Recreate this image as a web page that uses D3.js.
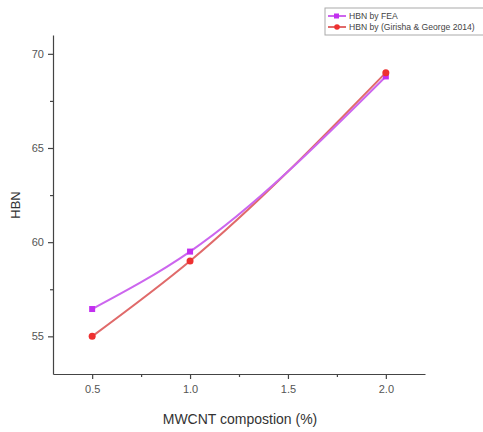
<html>
<head>
    <script src="https://d3js.org/d3.v7.min.js"></script>
    <style>
        body { margin: 0; background: white; }
        * { font-family: Arial, "Liberation Sans", sans-serif; }
        .axis text { fill: #555; font-size: 11px; }
        .axis path, .axis line { stroke: #444; }
    </style>
</head>
<body>
<svg id="chart" width="483" height="432"></svg>
<script>
    const compositions = [0.5, 1.0, 2.0];
    const hbnFEA = [56.45, 59.5, 68.8];
    const hbnGirisha = [55.0, 59.0, 69.0];
    const xTicks = [0.5, 1.0, 1.5, 2.0];
    const yTicks = [55, 60, 65, 70];
    const seriesNames = ["HBN by FEA", "HBN by (Girisha & George 2014)"];

    const svg = d3.select("#chart");
    const plotLeft = 53, plotRight = 425, plotTop = 35, plotBottom = 374;

    const xScale = d3.scaleLinear().domain([0.3, 2.2]).range([plotLeft, plotRight]);
    const yScale = d3.scaleLinear().domain([53, 71]).range([plotBottom, plotTop]);

    // minor ticks
    const xMinor = [0.75, 1.25, 1.75];
    const yMinor = [57.5, 62.5, 67.5];
    svg.append("g").attr("class", "axis")
        .attr("transform", `translate(0,${plotBottom})`)
        .call(d3.axisBottom(xScale).tickValues(xMinor).tickSize(3).tickFormat(""))
        .select(".domain").remove();
    svg.append("g").attr("class", "axis")
        .attr("transform", `translate(${plotLeft},0)`)
        .call(d3.axisLeft(yScale).tickValues(yMinor).tickSize(3).tickFormat(""))
        .select(".domain").remove();

    // major axes
    svg.append("g").attr("class", "axis")
        .attr("transform", `translate(0,${plotBottom})`)
        .call(d3.axisBottom(xScale).tickValues(xTicks).tickSize(5).tickSizeOuter(0).tickPadding(6).tickFormat(d3.format(".1f")));
    svg.append("g").attr("class", "axis")
        .attr("transform", `translate(${plotLeft},0)`)
        .call(d3.axisLeft(yScale).tickValues(yTicks).tickSize(5).tickSizeOuter(0).tickPadding(4));

    svg.selectAll(".axis path, .axis line").attr("stroke-width", 1.2);

    // axis labels
    svg.append("text").attr("x", 240).attr("y", 424)
        .attr("text-anchor", "middle").attr("font-size", 14).attr("fill", "#333")
        .text("MWCNT compostion (%)");
    svg.append("text").attr("transform", "translate(20,205) rotate(-90)")
        .attr("text-anchor", "middle").attr("font-size", 13).attr("fill", "#333")
        .text("HBN");

    const line = d3.line()
        .x(d => xScale(d[0]))
        .y(d => yScale(d[1]))
        .curve(d3.curveMonotoneX);

    const feaData = compositions.map((c, i) => [c, hbnFEA[i]]);
    const girData = compositions.map((c, i) => [c, hbnGirisha[i]]);

    svg.append("path").datum(girData)
        .attr("fill", "none").attr("stroke", "#e06a6a").attr("stroke-width", 2)
        .attr("d", line);
    svg.append("path").datum(feaData)
        .attr("fill", "none").attr("stroke", "#cc66ee").attr("stroke-width", 2)
        .attr("d", line);

    svg.selectAll("rect.fea").data(feaData).join("rect")
        .attr("class", "fea")
        .attr("x", d => xScale(d[0]) - 3).attr("y", d => yScale(d[1]) - 3)
        .attr("width", 6).attr("height", 6).attr("fill", "#c22ff0");
    svg.selectAll("circle.gir").data(girData).join("circle")
        .attr("class", "gir")
        .attr("cx", d => xScale(d[0])).attr("cy", d => yScale(d[1]))
        .attr("r", 3.5).attr("fill", "#ee3030");

    // legend
    const legend = svg.append("g");
    legend.append("rect").attr("x", 325).attr("y", 8).attr("width", 162).attr("height", 27)
        .attr("fill", "white").attr("stroke", "#aaa").attr("stroke-width", 1);
    const legColors = [["#cc66ee", "#c22ff0"], ["#e06a6a", "#ee3030"]];
    seriesNames.forEach((name, i) => {
        const y = 16 + i * 11;
        legend.append("line").attr("x1", 328).attr("x2", 346).attr("y1", y).attr("y2", y)
            .attr("stroke", legColors[i][0]).attr("stroke-width", 2);
        if (i === 0) {
            legend.append("rect").attr("x", 334).attr("y", y - 2.5).attr("width", 5).attr("height", 5)
                .attr("fill", legColors[i][1]);
        } else {
            legend.append("circle").attr("cx", 337).attr("cy", y).attr("r", 2.8)
                .attr("fill", legColors[i][1]);
        }
        legend.append("text").attr("x", 349).attr("y", y + 3)
            .attr("font-size", 8.6).attr("fill", "#444").text(name);
    });
</script>
</body>
</html>
